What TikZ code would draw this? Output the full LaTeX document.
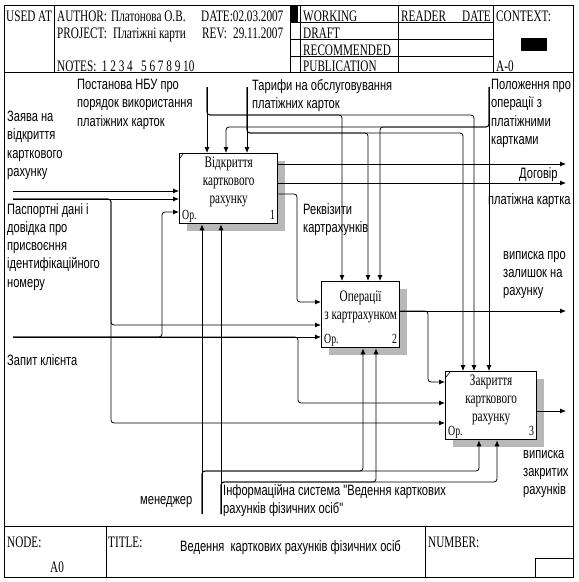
\documentclass[tikz,border=0pt]{standalone}
\usepackage{fontspec}
\setmainfont{Liberation Serif}
\newfontfamily\frmfont[FakeStretch=0.7]{Liberation Serif}
\newfontfamily\lblfont[FakeStretch=0.74]{Liberation Sans}
\usetikzlibrary{arrows.meta,positioning,shadows}

\begin{document}
\begin{tikzpicture}[x=1pt,y=-1pt,
	ln/.style={line width=0.8pt},
	frm/.style={font=\frmfont\fontsize{16}{18}\selectfont, anchor=base west, inner sep=0pt},
	lbl/.style={font=\lblfont\fontsize{15}{18.3}\selectfont, align=left, anchor=north west, inner sep=0pt, execute at begin node=\strut},
	func/.style={draw, line width=1.3pt, fill=white, anchor=north west, drop shadow={shadow xshift=7pt, shadow yshift=-7pt, fill=black!28, opacity=1}},
	ftxt/.style={font=\frmfont\fontsize{16}{18}\selectfont, align=center, inner sep=0pt, execute at begin node=\strut},
	oplbl/.style={font=\frmfont\fontsize{14}{16}\selectfont, inner sep=0pt},
	arr/.style={line width=0.8pt, rounded corners=3pt, -{Latex[length=6pt,width=5pt]}}]
	\useasboundingbox (0,0) rectangle (579,582);

	% frame
	\draw[ln] (4,5) rectangle (573,577);
	\draw[ln] (4,72) -- (573,72);
	\draw[ln] (54,5) -- (54,72);
	\draw[ln] (290,5) -- (290,72);
	\draw[ln] (300,5) -- (300,72);
	\draw[ln] (398,5) -- (398,72);
	\draw[ln] (493,5) -- (493,72);
	\foreach \y in {22,39,56}
		\draw[ln] (290,\y) -- (493,\y);
	\fill (290,5) rectangle (298,22);
	\fill (521,38) rectangle (547,51);
	\draw[ln] (4,526) -- (573,526);
	\draw[ln] (106,526) -- (106,577);
	\draw[ln] (425,526) -- (425,577);
	\draw[ln] (535,558) rectangle (573,577);

	\node[frm] (usedat) at (6,21) {USED AT};
	\node[frm] (author) at (57,21) {AUTHOR:};
	\node[frm] (authname) at (111,21) {Платонова О.В.};
	\node[frm] (date) at (201,21) {DATE:02.03.2007};
	\node[frm] (project) at (57,38) {PROJECT:};
	\node[frm] (projname) at (113,38) {Платіжні карти};
	\node[frm] (rev) at (202,38) {REV:};
	\node[frm] (revdate) at (233,38) {29.11.2007};
	\node[frm] (notes) at (57,71) {NOTES:\ \ 1\ 2\ 3\ 4\ \ \ 5\ 6\ 7\ 8\ 9\ 10};
	\node[frm] (working) at (303,21) {WORKING};
	\node[frm] (draft) at (303,38) {DRAFT};
	\node[frm] (recomm) at (303,55) {RECOMMENDED};
	\node[frm] (public) at (303,71) {PUBLICATION};
	\node[frm] (reader) at (401,21) {READER};
	\node[frm, anchor=base east] (rdate) at (491,21) {DATE};
	\node[frm] (context) at (496,21) {CONTEXT:};
	\node[frm] (ctxnode) at (496,71) {A-0};
	\node[frm] (nodelbl) at (7,547) {NODE:};
	\node[frm] (nodeno) at (50,572) {A0};
	\node[frm] (titlelbl) at (108,547) {TITLE:};
	\node[frm, font=\lblfont\fontsize{15}{18}\selectfont] (title) at (180,551) {Ведення\ \ карткових рахунків фізичних осіб};
	\node[frm] (number) at (428,547) {NUMBER:};

	% functions
	\node[func, minimum width=98pt, minimum height=70pt] (A1) at (179,153) {};
	\node[func, minimum width=78pt, minimum height=66pt] (A2) at (321,281) {};
	\node[func, minimum width=91pt, minimum height=68pt] (A3) at (445,371) {};

	\node[ftxt, below=4pt of A1.north] (A1t) {Відкриття\\карткового\\рахунку};
	\node[ftxt, below=10pt of A2.north] (A2t) {Операції\\з картрахунком};
	\node[ftxt, below=4pt of A3.north] (A3t) {Закриття\\карткового\\рахунку};

	\node[oplbl, anchor=base west] (A1o) at ([shift={(3pt,5pt)}]A1.south west) {Ор.};
	\node[oplbl, anchor=base east] (A1n) at ([shift={(-3pt,5pt)}]A1.south east) {1};
	\node[oplbl, anchor=base west] (A2o) at ([shift={(3pt,5pt)}]A2.south west) {Ор.};
	\node[oplbl, anchor=base east] (A2n) at ([shift={(-3pt,5pt)}]A2.south east) {2};
	\node[oplbl, anchor=base west] (A3o) at ([shift={(3pt,5pt)}]A3.south west) {Ор.};
	\node[oplbl, anchor=base east] (A3n) at ([shift={(-3pt,5pt)}]A3.south east) {3};

	\draw[line width=0.6pt] ([shift={(1pt,-5pt)}]A1.north west) -- ++(3,-4);
	\draw[line width=0.6pt] ([shift={(1pt,-6pt)}]A3.north west) -- ++(4,-5);

	% ends of the arrows
	\coordinate (zayava) at (13,191);
	\coordinate (pasport) at (13,199);
	\coordinate (zapyt) at (13,337);
	\coordinate (postanova) at (207,87);
	\coordinate (taryfy) at (247,87);
	\coordinate (polozh) at (489,87);
	\coordinate (menedzh) at (202,514);
	\coordinate (infsys) at (221,514);
	\coordinate (dogovir) at (566,164);
	\coordinate (kartka) at (566,183);
	\coordinate (zalyshok) at (566,311);
	\coordinate (zakryti) at (566,411);

	% bends
	\coordinate (pas2) at (111,325);
	\coordinate (pas3) at (111,423);
	\coordinate (zap1) at (162,212);
	\coordinate (zap3) at (298,403);
	\coordinate (rekv) at (297,194);
	\coordinate (rekv2) at (297,302);
	\coordinate (zal3) at (428,382);
	\coordinate (pos2) at (342,115);
	\coordinate (pos3) at (474,115);
	\coordinate (tar2) at (368,133);
	\coordinate (tar3) at (463,133);
	\coordinate (pol1) at (226,127);
	\coordinate (pol2) at (380,127);
	\coordinate (men2) at (363,471);
	\coordinate (men3) at (479,471);
	\coordinate (inf2) at (376,482);
	\coordinate (inf3) at (497,482);

	% inputs
	\draw[arr] (zayava) -- (zayava -| A1.west);
	\draw[arr] (pasport) -- (pasport -| A1.west);
	\draw[arr] (pasport) -| (pas2) -- (pas2 -| A2.west);
	\draw[arr] (pasport) -| (pas3) -- (pas3 -| A3.west);
	\draw[arr] (zapyt) -- (zapyt -| A2.west);
	\draw[arr] (zapyt) -| (zap1) -- (zap1 -| A1.west);
	\draw[arr] (zapyt) -| (zap3) -- (zap3 -| A3.west);

	% outputs
	\draw[arr] (A1.east |- dogovir) -- (dogovir);
	\draw[arr] (A1.east |- kartka) -- (kartka);
	\draw[arr] (A1.east |- rekv) -| (rekv2) -- (rekv2 -| A2.west);
	\draw[arr] (A2.east |- zalyshok) -- (zalyshok);
	\draw[arr] (A2.east |- zalyshok) -| (zal3) -- (zal3 -| A3.west);
	\draw[arr] (A3.east |- zakryti) -- (zakryti);

	% controls
	\draw[arr] (postanova) -- (postanova |- A1.north);
	\draw[arr] (postanova) |- (pos2) -- (pos2 |- A2.north);
	\draw[arr] (postanova) |- (pos3) -- (pos3 |- A3.north);
	\draw[arr] (taryfy) -- (taryfy |- A1.north);
	\draw[arr] (taryfy) |- (tar2) -- (tar2 |- A2.north);
	\draw[arr] (taryfy) |- (tar3) -- (tar3 |- A3.north);
	\draw[arr] (polozh) -- (polozh |- A3.north);
	\draw[arr] (polozh) |- (pol2) -- (pol2 |- A2.north);
	\draw[arr] (polozh) |- (pol1) -- (pol1 |- A1.north);

	% mechanisms
	\draw[arr] (menedzh) -- (menedzh |- A1.south);
	\draw[arr] (menedzh) |- (men2) -- (men2 |- A2.south);
	\draw[arr] (menedzh) |- (men3) -- (men3 |- A3.south);
	\draw[arr] (infsys) -- (infsys |- A1.south);
	\draw[arr] (infsys) |- (inf2) -- (inf2 |- A2.south);
	\draw[arr] (infsys) |- (inf3) -- (inf3 |- A3.south);

	% arrow labels
	\node[lbl] (zayavat) at (7,111) {Заява на\\відкриття\\карткового\\рахунку};
	\node[lbl] (pasportt) at (7,203) {Паспортні дані і\\довідка про\\присвоєння\\ідентифікаційного\\номеру};
	\node[lbl] (zapytt) at (7,352) {Запит клієнта};
	\node[lbl] (postanovat) at (77,79) {Постанова НБУ про\\порядок використання\\платіжних карток};
	\node[lbl] (taryfyt) at (252,79) {Тарифи на обслуговування\\платіжних карток};
	\node[lbl] (polozht) at (491,79) {Положення про\\операції з\\платіжними\\картками};
	\node[lbl] (dogovirt) at (519,165) {Договір};
	\node[lbl] (kartkat) at (488,191) {платіжна картка};
	\node[lbl] (rekvt) at (303,203) {Реквізити\\картрахунків};
	\node[lbl] (zalyshokt) at (503,251) {виписка про\\залишок на\\рахунку};
	\node[lbl] (zakrytit) at (523,450) {виписка\\закритих\\рахунків};
	\node[lbl] (menedzht) at (140,491) {менеджер};
	\node[lbl] (infsyst) at (223,484) {Інформаційна система "Ведення карткових\\рахунків фізичних осіб"};
\end{tikzpicture}
\end{document}
